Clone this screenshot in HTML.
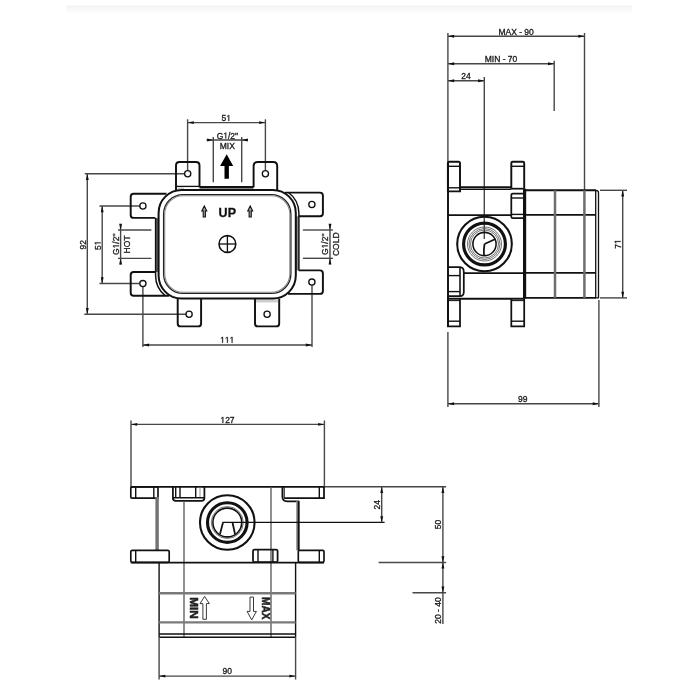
<!DOCTYPE html>
<html><head><meta charset="utf-8"><style>
html,body{margin:0;padding:0;background:#fff;}
svg{display:block;filter:grayscale(1) blur(0.3px);}
text{font-family:"Liberation Sans", sans-serif;font-kerning:none;}
</style></head><body>
<svg width="700" height="700" viewBox="0 0 700 700">
<rect width="700" height="700" fill="#fff"/>
<defs><linearGradient id="gb" x1="0" y1="0" x2="0" y2="1"><stop offset="0" stop-color="#f3f3f3"/><stop offset="1" stop-color="#fcfcfc"/></linearGradient></defs>
<rect x="66" y="5.5" width="566" height="7" fill="url(#gb)"/>
<line x1="187.6" y1="122.6" x2="265.4" y2="122.6" stroke="#474747" stroke-width="1.4"/>
<path d="M187.6,122.6 L193.80,121.15 L193.80,124.05 Z" fill="#111"/>
<path d="M265.4,122.6 L259.20,124.05 L259.20,121.15 Z" fill="#111"/>
<line x1="187.6" y1="119.3" x2="187.6" y2="173.7" stroke="#474747" stroke-width="1.4"/>
<line x1="265.4" y1="119.3" x2="265.4" y2="173.7" stroke="#474747" stroke-width="1.4"/>
<g><text x="226.3" y="121" font-size="8.5" text-anchor="middle" font-weight="normal" fill="#1a1a1a" stroke="#1a1a1a" stroke-width="0.3">5 </text><path d="M515,0 L515,1237 L197,1010 L197,1180 L530,1409 L696,1409 L696,0 Z" transform="translate(226.300,121) scale(0.004150,-0.004150)" fill="#1a1a1a" stroke="#1a1a1a" stroke-width="72.3"/></g>
<line x1="206.5" y1="140" x2="247.9" y2="140" stroke="#474747" stroke-width="1.4"/>
<path d="M213.3,140 L207.10,141.45 L207.10,138.55 Z" fill="#111"/>
<path d="M241.7,140 L247.90,138.55 L247.90,141.45 Z" fill="#111"/>
<line x1="213.3" y1="136.9" x2="213.3" y2="182.3" stroke="#474747" stroke-width="1.4"/>
<line x1="241.7" y1="136.9" x2="241.7" y2="182.3" stroke="#474747" stroke-width="1.4"/>
<g><text x="227.4" y="138.5" font-size="8.5" text-anchor="middle" font-weight="normal" fill="#1a1a1a" stroke="#1a1a1a" stroke-width="0.3">G /2"</text><path d="M515,0 L515,1237 L197,1010 L197,1180 L530,1409 L696,1409 L696,0 Z" transform="translate(223.289,138.5) scale(0.004150,-0.004150)" fill="#1a1a1a" stroke="#1a1a1a" stroke-width="72.3"/></g>
<text x="227.3" y="149" font-size="8.5" text-anchor="middle" font-weight="normal" fill="#1a1a1a" stroke="#1a1a1a" stroke-width="0.3">MIX</text>
<path d="M226.7,154.2 L233.2,166 L228.9,166 L228.9,178.7 L224.5,178.7 L224.5,166 L220.1,166 Z" fill="#000"/>
<line x1="87.3" y1="173.7" x2="87.3" y2="314.3" stroke="#474747" stroke-width="1.4"/>
<path d="M87.3,173.7 L88.75,179.90 L85.85,179.90 Z" fill="#111"/>
<path d="M87.3,314.3 L85.85,308.10 L88.75,308.10 Z" fill="#111"/>
<line x1="84.8" y1="173.7" x2="187.7" y2="173.7" stroke="#474747" stroke-width="1.4"/>
<line x1="84.3" y1="314.3" x2="189.1" y2="314.3" stroke="#474747" stroke-width="1.4"/>
<text x="85.6" y="244.7" font-size="8.5" text-anchor="middle" font-weight="normal" fill="#1a1a1a" stroke="#1a1a1a" stroke-width="0.3" transform="rotate(-90 85.6 244.7)">92</text>
<line x1="102.2" y1="206" x2="102.2" y2="283.5" stroke="#474747" stroke-width="1.4"/>
<path d="M102.2,206 L103.65,212.20 L100.75,212.20 Z" fill="#111"/>
<path d="M102.2,283.5 L100.75,277.30 L103.65,277.30 Z" fill="#111"/>
<line x1="99.5" y1="206" x2="142.9" y2="206" stroke="#474747" stroke-width="1.4"/>
<line x1="99.5" y1="283.5" x2="142.9" y2="283.5" stroke="#474747" stroke-width="1.4"/>
<g transform="rotate(-90 100.6 245.3)"><text x="100.6" y="245.3" font-size="8.5" text-anchor="middle" font-weight="normal" fill="#1a1a1a" stroke="#1a1a1a" stroke-width="0.3">5 </text><path d="M515,0 L515,1237 L197,1010 L197,1180 L530,1409 L696,1409 L696,0 Z" transform="translate(100.600,245.3) scale(0.004150,-0.004150)" fill="#1a1a1a" stroke="#1a1a1a" stroke-width="72.3"/></g>
<line x1="120.6" y1="224.3" x2="120.6" y2="264.5" stroke="#474747" stroke-width="1.4"/>
<path d="M120.6,230 L119.15,223.80 L122.05,223.80 Z" fill="#111"/>
<path d="M120.6,258.4 L122.05,264.60 L119.15,264.60 Z" fill="#111"/>
<line x1="118" y1="230" x2="151.4" y2="230" stroke="#474747" stroke-width="1.4"/>
<line x1="118" y1="258.4" x2="151.4" y2="258.4" stroke="#474747" stroke-width="1.4"/>
<g transform="rotate(-90 118.9 244.3)"><text x="118.9" y="244.3" font-size="8.5" text-anchor="middle" font-weight="normal" fill="#1a1a1a" stroke="#1a1a1a" stroke-width="0.3">G /2"</text><path d="M515,0 L515,1237 L197,1010 L197,1180 L530,1409 L696,1409 L696,0 Z" transform="translate(114.789,244.3) scale(0.004150,-0.004150)" fill="#1a1a1a" stroke="#1a1a1a" stroke-width="72.3"/></g>
<text x="129.7" y="244.5" font-size="8.5" text-anchor="middle" font-weight="normal" fill="#1a1a1a" stroke="#1a1a1a" stroke-width="0.3" transform="rotate(-90 129.7 244.5)">HOT</text>
<line x1="330" y1="224" x2="330" y2="264.3" stroke="#474747" stroke-width="1.4"/>
<path d="M330,230 L328.55,223.80 L331.45,223.80 Z" fill="#111"/>
<path d="M330,258.3 L331.45,264.50 L328.55,264.50 Z" fill="#111"/>
<line x1="302.9" y1="230" x2="332.9" y2="230" stroke="#474747" stroke-width="1.4"/>
<line x1="302.9" y1="258.3" x2="332.9" y2="258.3" stroke="#474747" stroke-width="1.4"/>
<g transform="rotate(-90 327.8 244.3)"><text x="327.8" y="244.3" font-size="8.5" text-anchor="middle" font-weight="normal" fill="#1a1a1a" stroke="#1a1a1a" stroke-width="0.3">G /2"</text><path d="M515,0 L515,1237 L197,1010 L197,1180 L530,1409 L696,1409 L696,0 Z" transform="translate(323.689,244.3) scale(0.004150,-0.004150)" fill="#1a1a1a" stroke="#1a1a1a" stroke-width="72.3"/></g>
<text x="339.2" y="244.2" font-size="8.5" text-anchor="middle" font-weight="normal" fill="#1a1a1a" stroke="#1a1a1a" stroke-width="0.3" transform="rotate(-90 339.2 244.2)">COLD</text>
<line x1="142.9" y1="345" x2="312" y2="345" stroke="#474747" stroke-width="1.4"/>
<path d="M142.9,345 L149.10,343.55 L149.10,346.45 Z" fill="#111"/>
<path d="M312,345 L305.80,346.45 L305.80,343.55 Z" fill="#111"/>
<line x1="142.9" y1="283.6" x2="142.9" y2="347.1" stroke="#474747" stroke-width="1.4"/>
<line x1="312" y1="282.1" x2="312" y2="347.1" stroke="#474747" stroke-width="1.4"/>
<g><text x="227.2" y="342.8" font-size="8.5" text-anchor="middle" font-weight="normal" fill="#1a1a1a" stroke="#1a1a1a" stroke-width="0.3">   </text><path d="M515,0 L515,1237 L197,1010 L197,1180 L530,1409 L696,1409 L696,0 Z" transform="translate(220.109,342.8) scale(0.004150,-0.004150)" fill="#1a1a1a" stroke="#1a1a1a" stroke-width="72.3"/><path d="M515,0 L515,1237 L197,1010 L197,1180 L530,1409 L696,1409 L696,0 Z" transform="translate(224.836,342.8) scale(0.004150,-0.004150)" fill="#1a1a1a" stroke="#1a1a1a" stroke-width="72.3"/><path d="M515,0 L515,1237 L197,1010 L197,1180 L530,1409 L696,1409 L696,0 Z" transform="translate(229.564,342.8) scale(0.004150,-0.004150)" fill="#1a1a1a" stroke="#1a1a1a" stroke-width="72.3"/></g>
<path d="M176,190.3 L176,165.5 Q176,162 179.5,162 L196,162 Q199.5,162 199.5,165.5 L199.5,187.2" stroke="#111" stroke-width="1.93" fill="none"/>
<path d="M253.6,187.2 L253.6,166 Q253.6,162 257.6,162 L273.2,162 Q277.2,162 277.2,166 L277.2,189.9" stroke="#111" stroke-width="1.93" fill="none"/>
<line x1="199.5" y1="187.2" x2="253.5" y2="187.2" stroke="#111" stroke-width="2.45"/>
<line x1="176.5" y1="186.4" x2="199" y2="186.4" stroke="#111" stroke-width="1.31"/>
<line x1="177.5" y1="188.2" x2="184" y2="188.2" stroke="#999" stroke-width="0.7"/>
<path d="M177.7,298.6 L177.7,323.4 Q177.7,326.4 180.7,326.4 L198.1,326.4 Q201.1,326.4 201.1,323.4 L201.1,298.6" stroke="#111" stroke-width="1.93" fill="none"/>
<path d="M255,298.6 L255,323.4 Q255,326.4 258,326.4 L276.2,326.4 Q279.2,326.4 279.2,323.4 L279.2,298.6" stroke="#111" stroke-width="1.93" fill="none"/>
<line x1="256" y1="300.2" x2="278" y2="300.2" stroke="#999" stroke-width="0.7"/>
<line x1="256" y1="301.8" x2="278" y2="301.8" stroke="#999" stroke-width="0.7"/>
<path d="M166.5,193.7 L133.7,193.7 Q130.7,193.7 130.7,196.7 L130.7,214.9 Q130.7,217.9 133.7,217.9 L155.3,217.9" stroke="#111" stroke-width="1.93" fill="none"/>
<path d="M155.3,272 L133.7,272 Q130.7,272 130.7,275 L130.7,292.7 Q130.7,295.7 133.7,295.7 L168.9,295.7" stroke="#111" stroke-width="1.93" fill="none"/>
<path d="M285,192.6 L319.9,192.6 Q322.9,192.6 322.9,195.6 L322.9,213.2 Q322.9,216.2 319.9,216.2 L298.7,216.2" stroke="#111" stroke-width="1.93" fill="none"/>
<path d="M298.7,270.4 L319.9,270.4 Q322.9,270.4 322.9,273.4 L322.9,290.9 Q322.9,293.9 319.9,293.9 L287.9,293.9" stroke="#111" stroke-width="1.93" fill="none"/>
<rect x="155.5" y="217.9" width="3" height="54.1" fill="#6a6a6a"/>
<rect x="296" y="216.2" width="2.6" height="54.2" fill="#8a8a8a"/>
<path d="M155.6,217.9 L155.6,275.6 A26,26 0 0 0 165.1,295.7" stroke="#111" stroke-width="1.49" fill="none"/>
<path d="M288.5,192.5 A26.2,26.2 0 0 1 298.9,212.9 L298.9,270.4" stroke="#111" stroke-width="1.49" fill="none"/>
<rect x="158.6" y="189.9" width="137.2" height="108.7" rx="23" stroke="#111" stroke-width="2.01" fill="none"/>
<rect x="163.6" y="194.6" width="127.3" height="98.8" rx="19.5" stroke="#222" stroke-width="1.3" fill="none"/>
<rect x="164.7" y="195.7" width="125.1" height="96.6" rx="18.5" stroke="#8a8a8a" stroke-width="1.1" fill="none"/>
<text x="227.3" y="216.6" font-size="12.5" text-anchor="middle" font-weight="bold" fill="#111" stroke="#111" stroke-width="0.3">UP</text>
<path d="M204.3,206 L206.8,211 L205.4,211 L205.4,217 L203.20000000000002,217 L203.20000000000002,211 L201.8,211 Z" stroke="#111" stroke-width="1.05" fill="#999"/>
<path d="M250.2,206 L252.7,211 L251.29999999999998,211 L251.29999999999998,217 L249.1,217 L249.1,211 L247.7,211 Z" stroke="#111" stroke-width="1.05" fill="#999"/>
<circle cx="227.4" cy="244" r="8.4" stroke="#111" stroke-width="1.57" fill="none"/>
<line x1="227.4" y1="235.6" x2="227.4" y2="252.4" stroke="#111" stroke-width="1.31"/>
<line x1="219" y1="244" x2="235.8" y2="244" stroke="#111" stroke-width="1.31"/>
<circle cx="187.7" cy="173.7" r="3.1" stroke="#111" stroke-width="1.31" fill="#fff"/>
<circle cx="265.4" cy="173.7" r="3.1" stroke="#111" stroke-width="1.31" fill="#fff"/>
<circle cx="142.9" cy="206" r="3.1" stroke="#111" stroke-width="1.31" fill="#fff"/>
<circle cx="142.9" cy="283.6" r="3.1" stroke="#111" stroke-width="1.31" fill="#fff"/>
<circle cx="311.9" cy="204.5" r="3.1" stroke="#111" stroke-width="1.31" fill="#fff"/>
<circle cx="311.9" cy="282.1" r="3.1" stroke="#111" stroke-width="1.31" fill="#fff"/>
<circle cx="189.1" cy="314.3" r="3.1" stroke="#111" stroke-width="1.31" fill="#fff"/>
<circle cx="267.1" cy="314.3" r="3.1" stroke="#111" stroke-width="1.31" fill="#fff"/>
<line x1="448" y1="36.3" x2="584.5" y2="36.3" stroke="#474747" stroke-width="1.4"/>
<path d="M448,36.3 L454.20,34.85 L454.20,37.75 Z" fill="#111"/>
<path d="M584.5,36.3 L578.30,37.75 L578.30,34.85 Z" fill="#111"/>
<line x1="584.5" y1="33" x2="584.5" y2="190.3" stroke="#474747" stroke-width="1.4"/>
<text x="516.1" y="35.0" font-size="8.5" text-anchor="middle" font-weight="normal" fill="#1a1a1a" stroke="#1a1a1a" stroke-width="0.3">MAX - 90</text>
<line x1="448" y1="63.8" x2="554.2" y2="63.8" stroke="#474747" stroke-width="1.4"/>
<path d="M448,63.8 L454.20,62.35 L454.20,65.25 Z" fill="#111"/>
<path d="M554.2,63.8 L548.00,65.25 L548.00,62.35 Z" fill="#111"/>
<line x1="554.2" y1="60.7" x2="554.2" y2="111" stroke="#474747" stroke-width="1.4"/>
<text x="501" y="62" font-size="8.5" text-anchor="middle" font-weight="normal" fill="#1a1a1a" stroke="#1a1a1a" stroke-width="0.3">MIN - 70</text>
<line x1="448" y1="80.8" x2="484.3" y2="80.8" stroke="#474747" stroke-width="1.4"/>
<path d="M448,80.8 L454.20,79.35 L454.20,82.25 Z" fill="#111"/>
<path d="M484.3,80.8 L478.10,82.25 L478.10,79.35 Z" fill="#111"/>
<line x1="484.3" y1="77" x2="484.3" y2="239" stroke="#474747" stroke-width="1.4"/>
<text x="466" y="79" font-size="8.5" text-anchor="middle" font-weight="normal" fill="#1a1a1a" stroke="#1a1a1a" stroke-width="0.3">24</text>
<line x1="447.9" y1="33" x2="447.9" y2="161.7" stroke="#474747" stroke-width="1.4"/>
<line x1="448" y1="161.7" x2="448" y2="326.3" stroke="#111" stroke-width="1.93"/>
<line x1="447.9" y1="332" x2="447.9" y2="407" stroke="#474747" stroke-width="1.4"/>
<line x1="447.9" y1="403.8" x2="598.9" y2="403.8" stroke="#474747" stroke-width="1.4"/>
<path d="M447.9,403.8 L454.10,402.35 L454.10,405.25 Z" fill="#111"/>
<path d="M598.9,403.8 L592.70,405.25 L592.70,402.35 Z" fill="#111"/>
<line x1="598.9" y1="300" x2="598.9" y2="407" stroke="#474747" stroke-width="1.4"/>
<text x="522.8" y="401.8" font-size="8.5" text-anchor="middle" font-weight="normal" fill="#1a1a1a" stroke="#1a1a1a" stroke-width="0.3">99</text>
<line x1="622.7" y1="190.3" x2="622.7" y2="297.9" stroke="#474747" stroke-width="1.4"/>
<path d="M622.7,190.3 L624.15,196.50 L621.25,196.50 Z" fill="#111"/>
<path d="M622.7,297.9 L621.25,291.70 L624.15,291.70 Z" fill="#111"/>
<line x1="600" y1="190.3" x2="627" y2="190.3" stroke="#474747" stroke-width="1.4"/>
<line x1="600" y1="297.9" x2="627" y2="297.9" stroke="#474747" stroke-width="1.4"/>
<g transform="rotate(-90 620.6 244)"><text x="620.6" y="244" font-size="8.5" text-anchor="middle" font-weight="normal" fill="#1a1a1a" stroke="#1a1a1a" stroke-width="0.3">7 </text><path d="M515,0 L515,1237 L197,1010 L197,1180 L530,1409 L696,1409 L696,0 Z" transform="translate(620.600,244) scale(0.004150,-0.004150)" fill="#1a1a1a" stroke="#1a1a1a" stroke-width="72.3"/></g>
<path d="M447.9,191.4 L447.9,163.2 Q447.9,161.7 449.4,161.7 L458.5,161.7 Q460,161.7 460,163.2 L460,191.4 L447.9,191.4" stroke="#111" stroke-width="1.93" fill="none"/>
<line x1="448" y1="166.3" x2="460" y2="166.3" stroke="#111" stroke-width="1.4"/>
<line x1="448" y1="187.8" x2="460" y2="187.8" stroke="#111" stroke-width="1.4"/>
<path d="M511.3,188.7 L511.3,163.2 Q511.3,161.7 512.8,161.7 L522.7,161.7 Q524.2,161.7 524.2,163.2 L524.2,188.7" stroke="#111" stroke-width="1.93" fill="none"/>
<line x1="511.3" y1="166.3" x2="524.2" y2="166.3" stroke="#111" stroke-width="1.4"/>
<line x1="460" y1="187.1" x2="511.3" y2="187.1" stroke="#111" stroke-width="1.75"/>
<line x1="460" y1="189.2" x2="511.3" y2="189.2" stroke="#111" stroke-width="1.57"/>
<line x1="511.3" y1="188.7" x2="524.2" y2="188.7" stroke="#111" stroke-width="1.75"/>
<rect x="511.3" y="193.6" width="12.9" height="24.6" rx="1.5" stroke="#111" stroke-width="1.75" fill="none"/>
<line x1="511.3" y1="198" x2="524.2" y2="198" stroke="#111" stroke-width="1.4"/>
<line x1="511.3" y1="214.4" x2="524.2" y2="214.4" stroke="#111" stroke-width="1.4"/>
<line x1="447.9" y1="215.2" x2="511.3" y2="215.2" stroke="#111" stroke-width="1.75"/>
<line x1="524.6" y1="188.7" x2="524.6" y2="298.5" stroke="#111" stroke-width="3.15"/>
<line x1="524.6" y1="190.3" x2="596" y2="190.3" stroke="#111" stroke-width="1.93"/>
<line x1="524.6" y1="297.9" x2="596" y2="297.9" stroke="#111" stroke-width="1.93"/>
<line x1="524.6" y1="214.9" x2="596" y2="214.9" stroke="#111" stroke-width="1.75"/>
<line x1="524.6" y1="272.9" x2="596" y2="272.9" stroke="#111" stroke-width="1.75"/>
<line x1="555" y1="190.3" x2="555" y2="297.9" stroke="#6e6e6e" stroke-width="2.5"/>
<line x1="584.4" y1="190.3" x2="584.4" y2="297.9" stroke="#6e6e6e" stroke-width="2.5"/>
<path d="M595.7,190.3 L595.7,297.9 M595.7,190.3 Q598.5,190.3 598.5,192.8 L598.5,297.9 L595.7,297.9" stroke="#111" stroke-width="1.31" fill="none"/>
<path d="M447.9,267.2 L460,267.2 Q463.8,267.5 463.8,272 L463.8,292 Q463.8,296.1 460,296.1 L447.9,296.1" stroke="#111" stroke-width="1.75" fill="none"/>
<line x1="460" y1="267.2" x2="460" y2="296.1" stroke="#111" stroke-width="1.57"/>
<line x1="448" y1="275.6" x2="460" y2="275.6" stroke="#111" stroke-width="1.4"/>
<line x1="448" y1="291.6" x2="460" y2="291.6" stroke="#111" stroke-width="1.4"/>
<line x1="463.8" y1="273" x2="524.6" y2="273" stroke="#111" stroke-width="1.75"/>
<line x1="447.9" y1="298.7" x2="524.6" y2="298.7" stroke="#111" stroke-width="1.93"/>
<path d="M447.9,298.7 L447.9,326.3 L460,326.3 L460,298.7" stroke="#111" stroke-width="1.75" fill="none"/>
<line x1="448" y1="321.2" x2="460" y2="321.2" stroke="#111" stroke-width="1.4"/>
<line x1="448" y1="300.6" x2="460" y2="300.6" stroke="#111" stroke-width="1.05"/>
<path d="M511.3,298.7 L511.3,326.3 L524.2,326.3 L524.2,298.7" stroke="#111" stroke-width="1.75" fill="none"/>
<line x1="511.3" y1="321.2" x2="524.2" y2="321.2" stroke="#111" stroke-width="1.4"/>
<line x1="511.3" y1="300.6" x2="524.2" y2="300.6" stroke="#111" stroke-width="1.05"/>
<circle cx="484.5" cy="244" r="27.3" stroke="#111" stroke-width="2.1" fill="none"/>
<circle cx="484.5" cy="244" r="20.9" stroke="#111" stroke-width="3.15" fill="none"/>
<circle cx="484.5" cy="244" r="17.0" stroke="#444" stroke-width="0.75" fill="none"/>
<circle cx="484.5" cy="244" r="15.5" stroke="#444" stroke-width="0.75" fill="none"/>
<circle cx="484.5" cy="244" r="14.0" stroke="#444" stroke-width="0.75" fill="none"/>
<circle cx="484.5" cy="244" r="11.6" stroke="#111" stroke-width="1.57" fill="none"/>
<path d="M484.5,244 L495.5,239 M484.5,244 Q483.5,250 484,255.8" stroke="#111" stroke-width="1.75" fill="none"/>
<line x1="131" y1="424.4" x2="324.4" y2="424.4" stroke="#474747" stroke-width="1.4"/>
<path d="M131,424.4 L137.20,422.95 L137.20,425.85 Z" fill="#111"/>
<path d="M324.4,424.4 L318.20,425.85 L318.20,422.95 Z" fill="#111"/>
<line x1="131" y1="420.5" x2="131" y2="486.8" stroke="#474747" stroke-width="1.4"/>
<line x1="324.4" y1="420.5" x2="324.4" y2="486.8" stroke="#474747" stroke-width="1.4"/>
<g><text x="227.5" y="422.9" font-size="8.5" text-anchor="middle" font-weight="normal" fill="#1a1a1a" stroke="#1a1a1a" stroke-width="0.3"> 27</text><path d="M515,0 L515,1237 L197,1010 L197,1180 L530,1409 L696,1409 L696,0 Z" transform="translate(220.409,422.9) scale(0.004150,-0.004150)" fill="#1a1a1a" stroke="#1a1a1a" stroke-width="72.3"/></g>
<line x1="130.8" y1="486.8" x2="324.4" y2="486.8" stroke="#111" stroke-width="1.75"/>
<line x1="324.4" y1="486.7" x2="446.1" y2="486.7" stroke="#474747" stroke-width="1.55"/>
<rect x="130.8" y="486.8" width="27.2" height="11.3" rx="1.2" stroke="#111" stroke-width="1.66" fill="none"/>
<line x1="135.7" y1="486.8" x2="135.7" y2="498.3" stroke="#111" stroke-width="1.4"/>
<line x1="153.8" y1="486.8" x2="153.8" y2="498.3" stroke="#111" stroke-width="1.4"/>
<path d="M172.9,486.8 L172.9,498 Q172.9,500.9 175.8,500.9 L201.5,500.9 Q204.4,500.9 204.4,498 L204.4,486.8" stroke="#111" stroke-width="1.75" fill="none"/>
<line x1="175.7" y1="486.8" x2="175.7" y2="498" stroke="#111" stroke-width="1.4"/>
<line x1="180" y1="486.8" x2="180" y2="498" stroke="#111" stroke-width="1.4"/>
<line x1="195.7" y1="486.8" x2="195.7" y2="498" stroke="#111" stroke-width="1.4"/>
<line x1="200" y1="486.8" x2="200" y2="498" stroke="#777" stroke-width="0.8"/>
<line x1="172.9" y1="497.8" x2="204.4" y2="497.8" stroke="#111" stroke-width="1.4"/>
<path d="M324,486.8 L324,498.1 L284.2,498.1 M282.4,486.8 L282.4,496.5 Q282.4,501.3 287.2,501.3 L298.7,501.3" stroke="#111" stroke-width="1.75" fill="none"/>
<line x1="284.2" y1="486.8" x2="284.2" y2="498.1" stroke="#111" stroke-width="1.05"/>
<line x1="319.3" y1="486.8" x2="319.3" y2="498.3" stroke="#111" stroke-width="1.4"/>
<rect x="155.4" y="497" width="3.4" height="53" fill="#727272"/>
<rect x="296.2" y="501" width="1.9" height="49.4" fill="#8a8a8a"/>
<line x1="298.7" y1="500.9" x2="298.7" y2="550.4" stroke="#111" stroke-width="1.93"/>
<line x1="184" y1="500.9" x2="184" y2="637.3" stroke="#555" stroke-width="1.3"/>
<line x1="271" y1="486.8" x2="271" y2="637.3" stroke="#555" stroke-width="1.3"/>
<line x1="222.5" y1="522.4" x2="384.6" y2="522.4" stroke="#111" stroke-width="1.22"/>
<rect x="130.8" y="550.3" width="38.4" height="12" rx="1.5" stroke="#111" stroke-width="1.66" fill="none"/>
<line x1="135.7" y1="550.1" x2="135.7" y2="562.2" stroke="#111" stroke-width="1.4"/>
<rect x="253" y="549.6" width="24.6" height="12.6" rx="1.5" stroke="#111" stroke-width="1.75" fill="none"/>
<line x1="258" y1="549.6" x2="258" y2="562.2" stroke="#111" stroke-width="1.4"/>
<line x1="272.9" y1="549.6" x2="272.9" y2="562.2" stroke="#111" stroke-width="1.4"/>
<rect x="298.3" y="550.4" width="25.7" height="11.9" rx="1.2" stroke="#111" stroke-width="1.66" fill="none"/>
<line x1="319.3" y1="550.4" x2="319.3" y2="562.2" stroke="#111" stroke-width="1.4"/>
<line x1="130.8" y1="562.5" x2="324" y2="562.5" stroke="#111" stroke-width="1.75"/>
<circle cx="227.3" cy="522.5" r="27.3" stroke="#111" stroke-width="2.1" fill="none"/>
<circle cx="227.3" cy="522.5" r="19.8" stroke="#111" stroke-width="3.15" fill="none"/>
<circle cx="227.3" cy="522.5" r="16.0" stroke="#444" stroke-width="0.75" fill="none"/>
<circle cx="227.3" cy="522.5" r="14.4" stroke="#111" stroke-width="1.57" fill="none"/>
<path d="M223,522.5 L220,534 M232.5,522.5 L235,534" stroke="#111" stroke-width="1.75" fill="none"/>
<line x1="159.1" y1="562.3" x2="159.1" y2="637.3" stroke="#111" stroke-width="1.4"/>
<line x1="295.6" y1="562.3" x2="295.6" y2="637.3" stroke="#111" stroke-width="1.4"/>
<line x1="159.1" y1="634.1" x2="295.6" y2="634.1" stroke="#111" stroke-width="1.49"/>
<line x1="159.1" y1="637.3" x2="295.6" y2="637.3" stroke="#111" stroke-width="1.49"/>
<line x1="159.1" y1="593.2" x2="295.6" y2="593.2" stroke="#7a7a7a" stroke-width="2.4"/>
<line x1="159.1" y1="622.4" x2="295.6" y2="622.4" stroke="#7a7a7a" stroke-width="2.4"/>
<text x="193.9" y="608" font-size="10.5" text-anchor="middle" font-weight="bold" fill="#222" stroke="#222" stroke-width="0.5" transform="rotate(90 193.9 608)" dominant-baseline="central" textLength="21.6" lengthAdjust="spacingAndGlyphs">MIN</text>
<text x="265.7" y="608.2" font-size="10.5" text-anchor="middle" font-weight="bold" fill="#222" stroke="#222" stroke-width="0.5" transform="rotate(90 265.7 608.2)" dominant-baseline="central" textLength="22.3" lengthAdjust="spacingAndGlyphs">MAX</text>
<path d="M204.6,596.4 L209.3,603.6 L206.4,603.6 L206.4,619.3 L202.9,619.3 L202.9,603.6 L200,603.6 Z" stroke="#222" stroke-width="0.9" fill="none"/>
<path d="M251.7,619.9 L256.4,611.4 L253.5,611.4 L253.5,597.1 L250,597.1 L250,611.4 L247.1,611.4 Z" stroke="#222" stroke-width="0.9" fill="none"/>
<line x1="159.1" y1="676.1" x2="295.6" y2="676.1" stroke="#474747" stroke-width="1.4"/>
<path d="M159.1,676.1 L165.30,674.65 L165.30,677.55 Z" fill="#111"/>
<path d="M295.6,676.1 L289.40,677.55 L289.40,674.65 Z" fill="#111"/>
<line x1="159.1" y1="637.3" x2="159.1" y2="679.5" stroke="#474747" stroke-width="1.4"/>
<line x1="295.6" y1="637.3" x2="295.6" y2="679.5" stroke="#474747" stroke-width="1.4"/>
<text x="227.3" y="674.3" font-size="8.5" text-anchor="middle" font-weight="normal" fill="#1a1a1a" stroke="#1a1a1a" stroke-width="0.3">90</text>
<line x1="381.7" y1="486.8" x2="381.7" y2="522.4" stroke="#474747" stroke-width="1.4"/>
<path d="M381.7,486.8 L383.15,493.00 L380.25,493.00 Z" fill="#111"/>
<path d="M381.7,522.4 L380.25,516.20 L383.15,516.20 Z" fill="#111"/>
<text x="380" y="504.7" font-size="8.5" text-anchor="middle" font-weight="normal" fill="#1a1a1a" stroke="#1a1a1a" stroke-width="0.3" transform="rotate(-90 380 504.7)">24</text>
<line x1="378.6" y1="562.4" x2="446.1" y2="562.4" stroke="#474747" stroke-width="1.55"/>
<line x1="412.5" y1="592.7" x2="446.1" y2="592.7" stroke="#474747" stroke-width="1.55"/>
<line x1="442.9" y1="486.8" x2="442.9" y2="562.4" stroke="#474747" stroke-width="1.4"/>
<path d="M442.9,486.8 L444.35,493.00 L441.45,493.00 Z" fill="#111"/>
<path d="M442.9,562.4 L441.45,556.20 L444.35,556.20 Z" fill="#111"/>
<text x="441" y="524.6" font-size="8.5" text-anchor="middle" font-weight="normal" fill="#1a1a1a" stroke="#1a1a1a" stroke-width="0.3" transform="rotate(-90 441 524.6)">50</text>
<line x1="442.9" y1="562.4" x2="442.9" y2="592.7" stroke="#474747" stroke-width="1.4"/>
<path d="M442.9,562.4 L444.35,568.60 L441.45,568.60 Z" fill="#111"/>
<path d="M442.9,592.7 L441.45,586.50 L444.35,586.50 Z" fill="#111"/>
<line x1="442.9" y1="592.7" x2="442.9" y2="624" stroke="#474747" stroke-width="1.4"/>
<text x="441" y="610.5" font-size="8.5" text-anchor="middle" font-weight="normal" fill="#1a1a1a" stroke="#1a1a1a" stroke-width="0.3" transform="rotate(-90 441 610.5)">20 - 40</text>
</svg>
</body></html>
